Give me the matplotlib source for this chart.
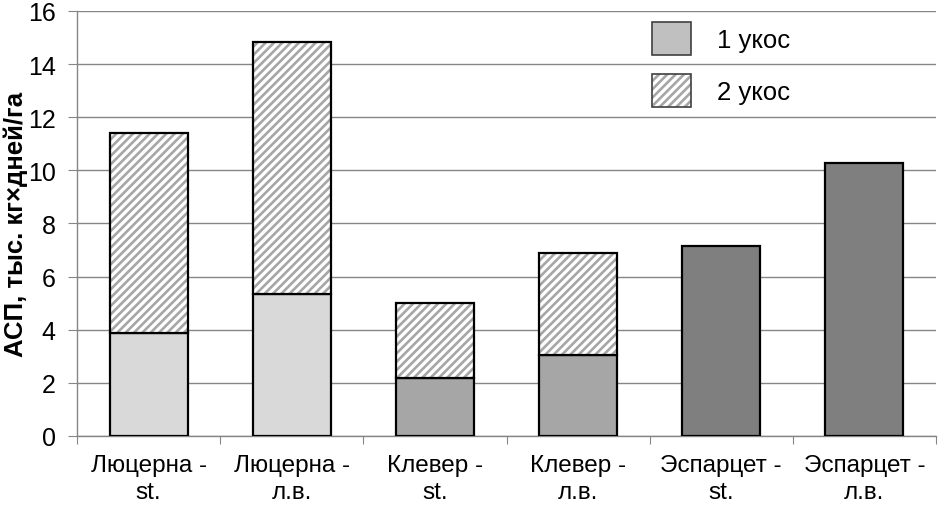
import matplotlib
matplotlib.use("Agg")
import matplotlib.pyplot as plt
from matplotlib.patches import Patch
import numpy as np

# data
categories = ["Люцерна -\nst.", "Люцерна -\nл.в.", "Клевер -\nst.",
              "Клевер -\nл.в.", "Эспарцет -\nst.", "Эспарцет -\nл.в."]
cut1 = [3.87, 5.33, 2.17, 3.04, 7.15, 10.26]
cut2 = [7.54, 9.50, 2.83, 3.85, 0.0, 0.0]
cut1_colors = ["#d9d9d9", "#d9d9d9", "#a6a6a6", "#a6a6a6", "#7f7f7f", "#7f7f7f"]
yticks = [0, 2, 4, 6, 8, 10, 12, 14, 16]

plt.rcParams["font.family"] = ["Liberation Sans", "DejaVu Sans"]
plt.rcParams["hatch.linewidth"] = 1.9

fig = plt.figure(figsize=(9.44, 5.06), dpi=100)
ax = fig.add_axes([0.0816, 0.1364, 0.9099, 0.8399])

x = np.arange(len(categories))
width = 0.545
c1 = np.array(cut1)
c2 = np.array(cut2)
has2 = c2 > 0

ax.bar(x, c1, width, color=cut1_colors, edgecolor="black",
       linewidth=1.6, zorder=3)
# hatch drawn separately so its colour can differ from the black outline
ax.bar(x[has2], c2[has2], width, bottom=c1[has2],
       color="white", edgecolor="#a6a6a6", hatch="////", linewidth=0,
       zorder=3)
ax.bar(x[has2], c2[has2], width, bottom=c1[has2],
       fill=False, edgecolor="black", linewidth=1.6, zorder=4)

ax.set_xlim(-0.5, len(categories) - 0.5)
ax.set_ylim(0, 16)
ax.set_yticks(yticks)
ax.set_yticklabels([str(t) for t in yticks], fontsize=18)
ax.tick_params(axis="y", length=6.5, width=0.8, color="#868686", pad=9)

ax.set_xticks(x)
ax.set_xticklabels(categories, fontsize=17.5, linespacing=1.3)
ax.set_xticks(np.arange(-0.5, len(categories)), minor=True)
ax.tick_params(axis="x", which="major", length=0, pad=13)
ax.tick_params(axis="x", which="minor", length=6, width=0.8,
               color="#868686", direction="out")

ax.grid(axis="y", color="#868686", linewidth=1.0, zorder=0)
ax.set_axisbelow(True)
for side in ("top", "right"):
    ax.spines[side].set_visible(False)
for side in ("left", "bottom"):
    ax.spines[side].set_color("#868686")
    ax.spines[side].set_linewidth(1.0)

ax.set_ylabel("АСП, тыс. кг×дней/га", fontsize=18.5, fontweight="bold",
              labelpad=0)

h1 = Patch(facecolor="#c0c0c0", edgecolor="#404040", linewidth=1.2)
h2_fill = Patch(facecolor="white", edgecolor="#a6a6a6", hatch="////",
                linewidth=0)
h2_edge = Patch(fill=False, edgecolor="#404040", linewidth=1.2)
ax.legend([h1, (h2_fill, h2_edge)], ["1 укос", "2 укос"],
          loc="upper left", bbox_to_anchor=(652 / 944, 1 - 23 / 506),
          bbox_transform=fig.transFigure, frameon=False, fontsize=18.5,
          borderpad=0, borderaxespad=0, handlelength=1.53,
          handleheight=1.62, handletextpad=1.0, labelspacing=0.72)

fig.savefig("out.png", dpi=100)
